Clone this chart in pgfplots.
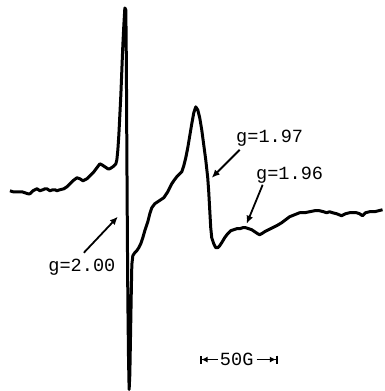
\documentclass[border=0pt]{standalone}
\usepackage{fontspec}
\setmainfont{Liberation Mono}
\setmonofont{Liberation Mono}
\usepackage{pgfplots}
\pgfplotsset{compat=1.18}
\usetikzlibrary{arrows.meta}
\begin{document}
\begin{tikzpicture}
\begin{axis}[
  scale only axis, width=192pt, height=195.5pt,
  xmin=0, xmax=384, ymin=0, ymax=391, y dir=reverse,
  hide axis, clip=false,
]
\path (rel axis cs:0,0) rectangle (rel axis cs:1,1);
\addplot[black, line width=1.5pt, line join=round] coordinates {
(10,191)(13,192)(16,192)(19,192)(22,192)(25,193)(28,194)(30,194)(33,191)(35,190)(37,189)(40,191)(43,190)(45,189)(47,189)(50,191)(53,190)(55,190)(57,191)(60,190)(64,189)(67,187)(70,184)(73,181)(77,178)(80,179)(83,181)(87,179)(90,176)(94,172)(97,168)(100,164)(102,165)(105,167)(108,169)(110,169)(113,167)(116,164)(117,160)(118,150)(119,135)(120,115)(121,95)(122,70)(123,45)(124,25)(125,8)(126,10)(126.5,60)(127,150)(127.5,230)(128,300)(128.7,360)(129.3,390)(130,375)(130.8,330)(131.5,290)(132,265)(133,256)(135,253)(137,251)(139,248)(141,244)(143,238)(145,231)(148,222)(150,214)(152,208)(155,204)(158,202)(161,200)(164,198)(166,195)(168,192)(170,188)(172,184)(174,181)(177,177)(180,174)(182,172)(184,166)(186,158)(188,148)(190,136)(192,124)(194,113)(196,107)(198,110)(200,118)(202,130)(204,145)(206,160)(208,178)(209,192)(210,210)(211,228)(212,238)(214,244)(216,248)(218,248)(220,246)(222,243)(225,238)(228,234)(231,231)(234,230)(237,229)(240,229)(243,228)(246,228)(249,229)(252,230)(255,232)(258,234)(260,235)(262,234)(265,232)(269,230)(273,228)(277,226)(282,223)(286,220)(290,217)(295,215)(300,213)(305,213)(310,212)(315,211)(320,211)(324,212)(327,213)(330,212)(333,213)(337,214)(342,216)(346,214)(350,213)(354,213)(357,213)(360,214)(363,216)(366,213)(370,212)(375,212)(379,211)(383,210)
};
\node[font=\fontsize{9.3}{10}\selectfont] at (axis cs:270,138) {g=1.97};
\node[font=\fontsize{9.3}{10}\selectfont] at (axis cs:290,175) {g=1.96};
\node[font=\fontsize{9.3}{10}\selectfont] at (axis cs:82,268) {g=2.00};
\node[font=\fontsize{9.3}{10}\selectfont] at (axis cs:237,360) {50G};
\draw[line width=0.9pt, -{Latex[length=4pt,width=3.5pt]}] (axis cs:240,150) -- (axis cs:212,178);
\draw[line width=0.9pt, -{Latex[length=4pt,width=3.5pt]}] (axis cs:263,185) -- (axis cs:247,224);
\draw[line width=0.9pt, -{Latex[length=4pt,width=3.5pt]}] (axis cs:84,253) -- (axis cs:118,217);
\draw[line width=0.9pt, {Bar[width=4pt]Latex[length=3pt,width=3pt]}-] (axis cs:200,360) -- (axis cs:218,360);
\draw[line width=0.9pt, -{Latex[length=3pt,width=3pt]Bar[width=4pt]}] (axis cs:257,360) -- (axis cs:278,360);
\end{axis}
\end{tikzpicture}
\end{document}
